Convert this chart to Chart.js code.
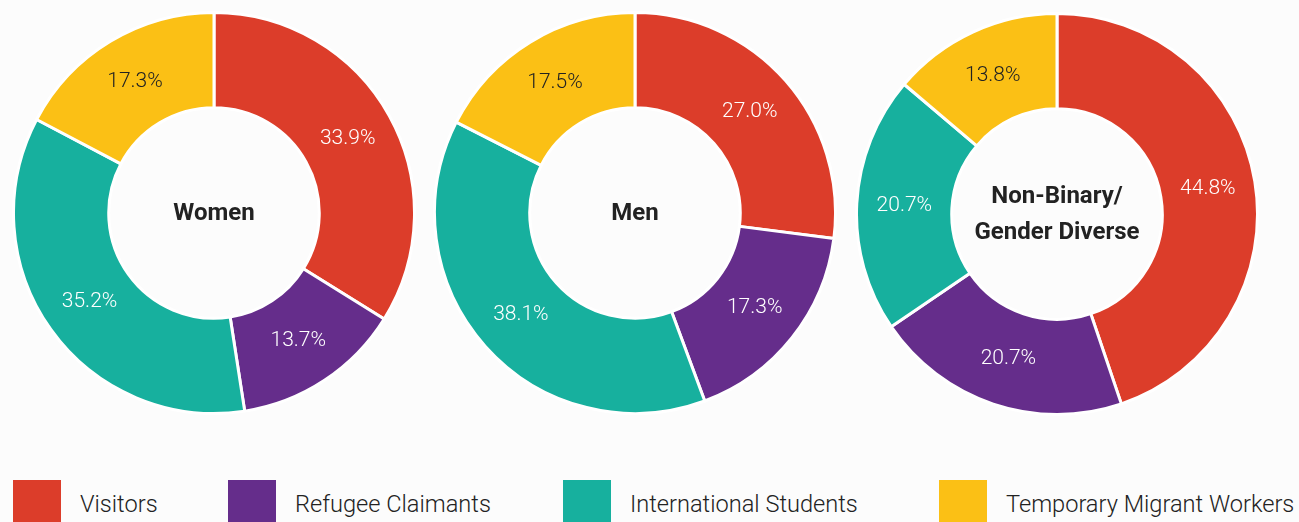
<!DOCTYPE html>
<html>
<head>
<meta charset="utf-8">
<script src="https://cdn.jsdelivr.net/npm/chart.js@4.4.0/dist/chart.umd.min.js"></script>
<style>
  html, body { margin: 0; padding: 0; background: #fcfcfc; }
  body { width: 1299px; height: 522px; position: relative; overflow: hidden; font-family: Roboto, sans-serif; }
  canvas { position: absolute; }
  #c1 { left: 12px; top: 11px; }
  #c2 { left: 433px; top: 11px; }
  #c3 { left: 855px; top: 12px; }
  .item { position: absolute; top: 480px; display: flex; align-items: center; white-space: nowrap; }
  .item:nth-child(1) { left: 13px; }
  .item:nth-child(2) { left: 228px; }
  .item:nth-child(3) { left: 563px; }
  .item:nth-child(4) { left: 939px; }
  .box { width: 48px; height: 48px; margin-right: 19px; }
  .lbl { font-weight: 300; font-size: 23.6px; color: #222; margin-top: -1px; }
</style>
</head>
<body>
<canvas id="c1" width="404" height="404"></canvas>
<canvas id="c2" width="404" height="404"></canvas>
<canvas id="c3" width="404" height="404"></canvas>
<div id="legend"></div>
<script>
const categories = ["Visitors", "Refugee Claimants", "International Students", "Temporary Migrant Workers"];
const women = [33.9, 13.7, 35.2, 17.3];
const men = [27.0, 17.3, 38.1, 17.5];
const nonBinary = [44.8, 20.7, 20.7, 13.8];
const groupTitles = [["Women"], ["Men"], ["Non-Binary/", "Gender Diverse"]];

const colors = ["#dc3d2a", "#652d8b", "#17b09e", "#fbc015"];
const labelColors = ["#ffffff", "#ffffff", "#ffffff", "#222222"];

// percent labels in the middle of each slice
const sliceLabels = {
  id: "sliceLabels",
  afterDatasetsDraw(chart) {
    const ctx = chart.ctx;
    const meta = chart.getDatasetMeta(0);
    ctx.save();
    ctx.font = "300 21px Roboto";
    ctx.textAlign = "center";
    ctx.textBaseline = "middle";
    meta.data.forEach((arc, i) => {
      const pos = arc.tooltipPosition();
      ctx.fillStyle = labelColors[i];
      ctx.fillText(chart.data.datasets[0].data[i].toFixed(1) + "%", pos.x, pos.y);
    });
    ctx.restore();
  }
};

// bold title inside the hole
const centerTitle = {
  id: "centerTitle",
  afterDraw(chart) {
    const lines = chart.options.plugins.centerTitle.lines;
    const ctx = chart.ctx;
    const a = chart.chartArea;
    const cx = (a.left + a.right) / 2;
    const cy = (a.top + a.bottom) / 2;
    const lh = 36;
    ctx.save();
    ctx.font = "bold 24px Roboto";
    ctx.fillStyle = "#222222";
    ctx.textAlign = "center";
    ctx.textBaseline = "middle";
    lines.forEach((t, i) => {
      ctx.fillText(t, cx, cy + 1 + (i - (lines.length - 1) / 2) * lh);
    });
    ctx.restore();
  }
};

const makeChart = (id, values, lines) => {
  new Chart(document.getElementById(id), {
    type: "doughnut",
    plugins: [sliceLabels, centerTitle],
    data: {
      labels: categories,
      datasets: [{
        data: values,
        backgroundColor: colors,
        borderColor: "#ffffff",
        borderWidth: 3
      }]
    },
    options: {
      responsive: false,
      animation: false,
      cutout: "52.5%",
      layout: { padding: 0 },
      plugins: {
        legend: { display: false },
        tooltip: { enabled: false },
        centerTitle: { lines: lines }
      }
    }
  });
};

const legend = document.getElementById("legend");
categories.forEach((name, i) => {
  const item = document.createElement("div");
  item.className = "item";
  item.innerHTML = `<div class="box" style="background:${colors[i]}"></div><div class="lbl">${name}</div>`;
  legend.appendChild(item);
});

Promise.all([
  document.fonts.load("300 21px Roboto"),
  document.fonts.load("bold 24px Roboto")
]).catch(() => {}).then(() => {
  makeChart("c1", women, groupTitles[0]);
  makeChart("c2", men, groupTitles[1]);
  makeChart("c3", nonBinary, groupTitles[2]);
});
</script>
</body>
</html>
